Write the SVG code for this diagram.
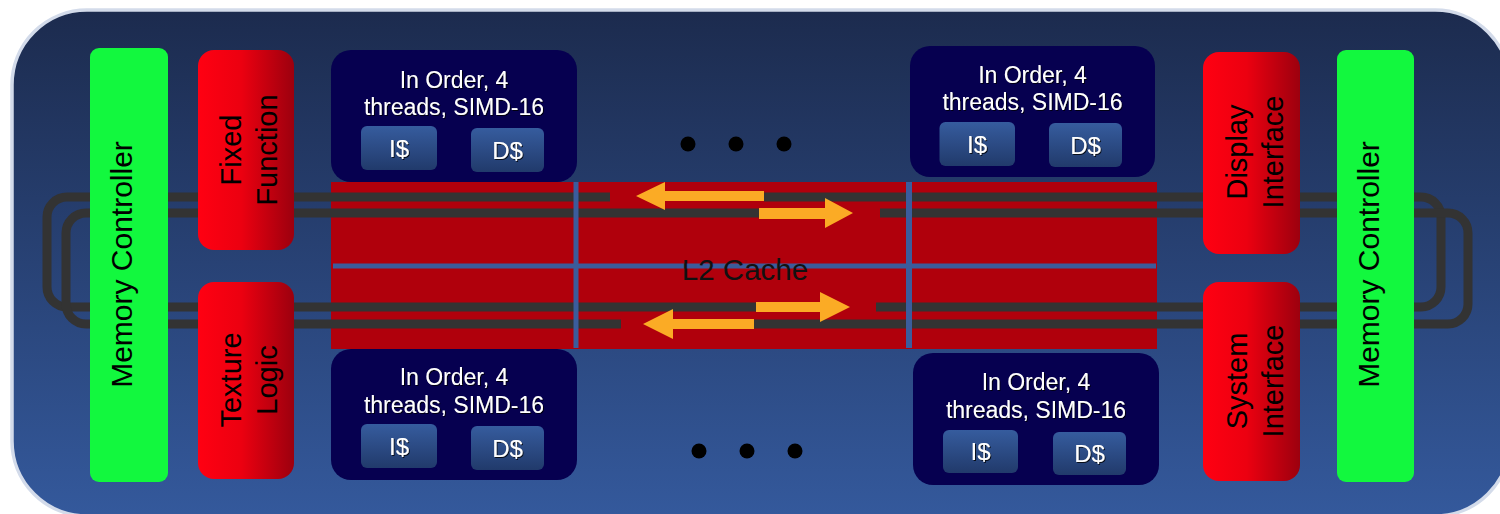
<svg xmlns="http://www.w3.org/2000/svg" width="1500" height="514" viewBox="0 0 1500 514">
<defs>
<linearGradient id="bg" x1="0" y1="0" x2="0" y2="1"><stop offset="0" stop-color="#1c2b4e"/><stop offset="1" stop-color="#34599c"/></linearGradient>
<linearGradient id="red" x1="0" y1="0" x2="1" y2="0"><stop offset="0" stop-color="#ff0012"/><stop offset="0.45" stop-color="#ec0010"/><stop offset="1" stop-color="#9c000e"/></linearGradient>
<linearGradient id="cache" x1="0" y1="0" x2="0" y2="1"><stop offset="0" stop-color="#365c9e"/><stop offset="1" stop-color="#213a6b"/></linearGradient>
<filter id="sh" x="-10%" y="-10%" width="130%" height="130%"><feDropShadow dx="1" dy="1" stdDeviation="0.6" flood-color="#000" flood-opacity="0.8"/></filter>
</defs>
<style>
text{font-family:"Liberation Sans",Arial,sans-serif;}
.mc{fill:#12f83e;}
.rb{fill:url(#red);}
.core{fill:#060050;}
.cb{fill:url(#cache);}
.wt{fill:#fff;font-size:23px;text-anchor:middle;filter:url(#sh);}
.ct{fill:#fff;font-size:24px;text-anchor:middle;filter:url(#sh);}
.bt{fill:#000;font-size:29px;text-anchor:middle;}
.mt{fill:#000;font-size:30px;text-anchor:middle;}
.bus{fill:none;stroke:#333333;stroke-width:9;}
.arr{fill:#fbab25;}
.sep{fill:#3b5c9c;}
.dot{fill:#000;}
</style>
<rect x="12" y="10" width="1498" height="506" rx="75" ry="75" fill="url(#bg)" stroke="#d3dbea" stroke-width="3.5"/>
<g id="l2cache">
<rect x="331" y="182" width="826" height="167" fill="#b0000c"/>
</g>
<g id="connectors">
<path class="bus" d="M610,197 H67 A20,20 0 0 0 47,217 V287 A20,20 0 0 0 67,307 H756"/>
<path class="bus" d="M764,197 H1421 A20,20 0 0 1 1441,217 V287 A20,20 0 0 1 1421,307 H876"/>
<path class="bus" d="M759,213 H86 A20,20 0 0 0 66,233 V304 A20,20 0 0 0 86,324 H621"/>
<path class="bus" d="M880,213 H1448 A20,20 0 0 1 1468,233 V304 A20,20 0 0 1 1448,324 H754"/>
<polygon class="arr" points="636,196 665,182 665,191 764,191 764,201 665,201 665,210"/>
<polygon class="arr" points="759,208 825,208 825,198 853,213 825,228 825,219 759,219"/>
<polygon class="arr" points="756,302 820,302 820,292 850,307 820,322 820,312 756,312"/>
<polygon class="arr" points="643,324 673,309 673,319 754,319 754,329 673,329 673,339"/>
</g>
<g id="l2cache-grid">
<rect class="sep" x="573.5" y="182" width="5" height="166"/>
<rect class="sep" x="906" y="182" width="6" height="166"/>
<rect class="sep" x="333" y="263.5" width="823" height="5"/>
<text x="745" y="280" style="fill:#111;font-size:29.5px;text-anchor:middle;">L2 Cache</text>
</g>
<g id="mem-ctrl-left">
<rect class="mc" x="90" y="48" width="78" height="434" rx="9"/>
<text class="mt" transform="translate(129,264.5) rotate(-90)" x="0" y="3">Memory Controller</text>
</g>
<g id="fixed-function">
<rect class="rb" x="198" y="50" width="96" height="200" rx="16"/>
<text class="bt" transform="translate(246,150) rotate(-90)"><tspan x="0" y="-5">Fixed</tspan><tspan x="0" y="31">Function</tspan></text>
</g>
<g id="texture-logic">
<rect class="rb" x="198" y="282" width="96" height="197" rx="16"/>
<text class="bt" transform="translate(246,380) rotate(-90)"><tspan x="0" y="-5">Texture</tspan><tspan x="0" y="31">Logic</tspan></text>
</g>
<g id="display-interface">
<rect class="rb" x="1203" y="52" width="97" height="202" rx="16"/>
<text class="bt" transform="translate(1252,152) rotate(-90)"><tspan x="0" y="-5">Display</tspan><tspan x="0" y="31">Interface</tspan></text>
</g>
<g id="system-interface">
<rect class="rb" x="1203" y="282" width="97" height="199" rx="16"/>
<text class="bt" transform="translate(1252,381) rotate(-90)"><tspan x="0" y="-5">System</tspan><tspan x="0" y="31">Interface</tspan></text>
</g>
<g id="mem-ctrl-right">
<rect class="mc" x="1337" y="50" width="77" height="432" rx="9"/>
<text class="mt" transform="translate(1376,264.5) rotate(-90)" x="0" y="3">Memory Controller</text>
</g>
<g id="core-top-left">
<rect class="core" x="331" y="50" width="246" height="132" rx="20"/>
<text class="wt" x="454" y="88">In Order, 4</text>
<text class="wt" x="454" y="115">threads, SIMD-16</text>
<rect class="cb" x="361" y="126" width="76" height="44" rx="6"/>
<rect class="cb" x="471" y="128" width="73" height="44" rx="6"/>
<text class="ct" x="399" y="157">I$</text>
<text class="ct" x="507.5" y="159">D$</text>
</g>
<g id="core-bottom-left">
<rect class="core" x="331" y="349" width="246" height="131" rx="20"/>
<text class="wt" x="454" y="385">In Order, 4</text>
<text class="wt" x="454" y="413">threads, SIMD-16</text>
<rect class="cb" x="361" y="424" width="76" height="44" rx="6"/>
<rect class="cb" x="471" y="426" width="73" height="44" rx="6"/>
<text class="ct" x="399" y="455">I$</text>
<text class="ct" x="507.5" y="457">D$</text>
</g>
<g id="core-top-right">
<rect class="core" x="910" y="46" width="245" height="131" rx="20"/>
<text class="wt" x="1032.5" y="83">In Order, 4</text>
<text class="wt" x="1032.5" y="110">threads, SIMD-16</text>
<rect class="cb" x="939.5" y="122" width="75.5" height="44" rx="6"/>
<rect class="cb" x="1049" y="123" width="73" height="44" rx="6"/>
<text class="ct" x="977" y="153">I$</text>
<text class="ct" x="1085.5" y="154">D$</text>
</g>
<g id="core-bottom-right">
<rect class="core" x="913" y="353" width="246" height="132" rx="20"/>
<text class="wt" x="1036" y="390">In Order, 4</text>
<text class="wt" x="1036" y="418">threads, SIMD-16</text>
<rect class="cb" x="943" y="430" width="75" height="43" rx="6"/>
<rect class="cb" x="1053" y="432" width="73" height="43" rx="6"/>
<text class="ct" x="980.5" y="460">I$</text>
<text class="ct" x="1089.5" y="462">D$</text>
</g>
<g id="ellipsis-top">
<circle class="dot" cx="688" cy="144" r="7.5"/>
<circle class="dot" cx="736" cy="144" r="7.5"/>
<circle class="dot" cx="784" cy="144" r="7.5"/>
</g>
<g id="ellipsis-bottom">
<circle class="dot" cx="699" cy="451" r="7.5"/>
<circle class="dot" cx="747" cy="451" r="7.5"/>
<circle class="dot" cx="795" cy="451" r="7.5"/>
</g>
</svg>
